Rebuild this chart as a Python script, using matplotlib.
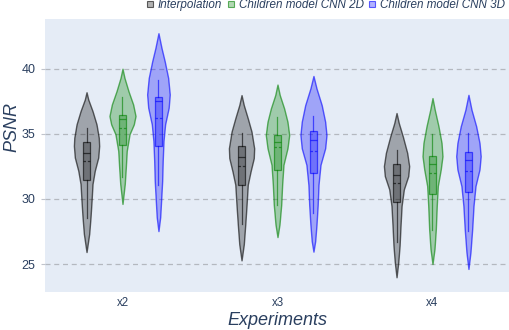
import numpy as np
import matplotlib
matplotlib.use("Agg")
from matplotlib import pyplot as plt
from matplotlib.lines import Line2D

plt.rcParams['font.family'] = ['Liberation Sans', 'DejaVu Sans']

experiments = ["x2", "x3", "x4"]
methods = ["Interpolation", "Children model CNN 2D", "Children model CNN 3D"]

# violin outlines: PSNR levels and relative density at each level
levels = {
    ("x2", "Interpolation"): [38.21, 37.65, 36.76, 35.74, 34.72, 34.08, 33.19, 32.17, 31.15, 29.88, 28.6, 27.32, 25.92],
    ("x2", "Children model CNN 2D"): [40.02, 39.31, 38.29, 37.27, 36.38, 35.74, 34.98, 33.7, 32.43, 31.15, 29.62],
    ("x2", "Children model CNN 3D"): [42.75, 41.61, 40.59, 39.31, 38.04, 37.02, 35.74, 34.47, 32.94, 31.41, 29.88, 28.6, 27.53],
    ("x3", "Interpolation"): [37.99, 37.22, 36.2, 35.18, 33.9, 33.14, 32.12, 31.1, 29.57, 28.04, 26.51, 25.28],
    ("x3", "Children model CNN 2D"): [38.8, 37.99, 36.96, 35.94, 34.92, 33.9, 32.63, 31.1, 29.57, 28.04, 27.07],
    ("x3", "Children model CNN 3D"): [39.46, 38.5, 37.22, 35.94, 34.92, 33.9, 32.63, 31.1, 29.57, 28.04, 26.76, 25.95],
    ("x4", "Interpolation"): [36.61, 35.84, 34.82, 33.55, 32.53, 31.76, 30.74, 29.47, 27.94, 26.41, 25.13, 23.98],
    ("x4", "Children model CNN 2D"): [37.76, 36.86, 35.59, 34.31, 33.29, 32.27, 31.0, 29.47, 27.68, 26.15, 25.0],
    ("x4", "Children model CNN 3D"): [38.01, 36.86, 35.59, 34.31, 33.29, 32.27, 31.0, 29.47, 27.68, 25.9, 24.62],
}
density = {
    ("x2", "Interpolation"): [0, .13, .45, .75, .92, .95, .88, .62, .45, .38, .30, .20, 0],
    ("x2", "Children model CNN 2D"): [0, .15, .45, .80, .98, .85, .53, .32, .25, .17, 0],
    ("x2", "Children model CNN 3D"): [0, .23, .47, .73, .85, .77, .50, .38, .32, .28, .20, .13, 0],
    ("x3", "Interpolation"): [0, .17, .47, .75, .95, .92, .68, .47, .38, .28, .17, 0],
    ("x3", "Children model CNN 2D"): [0, .17, .50, .75, .88, .75, .45, .35, .28, .15, 0],
    ("x3", "Children model CNN 3D"): [0, .23, .62, .88, .98, .88, .53, .38, .32, .23, .13, 0],
    ("x4", "Interpolation"): [0, .17, .47, .80, .95, .88, .55, .38, .30, .23, .13, 0],
    ("x4", "Children model CNN 2D"): [0, .17, .45, .68, .75, .62, .40, .32, .25, .15, 0],
    ("x4", "Children model CNN 3D"): [0, .23, .58, .83, .92, .83, .53, .38, .28, .15, 0],
}

# inner box stats, in order x2, x3, x4
q1 = {
    "Interpolation": [31.46, 31.08, 29.75],
    "Children model CNN 2D": [34.15, 32.23, 30.4],
    "Children model CNN 3D": [34.05, 31.97, 30.5],
}
q3 = {
    "Interpolation": [34.36, 34.08, 32.7],
    "Children model CNN 2D": [36.46, 34.92, 33.3],
    "Children model CNN 3D": [37.85, 35.2, 33.6],
}
median = {
    "Interpolation": [33.51, 33.2, 31.85],
    "Children model CNN 2D": [36.13, 34.4, 32.67],
    "Children model CNN 3D": [37.57, 34.5, 33.0],
}
mean = {
    "Interpolation": [32.95, 32.56, 31.2],
    "Children model CNN 2D": [35.44, 34.0, 32.0],
    "Children model CNN 3D": [36.23, 33.7, 32.15],
}
whislo = {
    "Interpolation": [28.51, 28.1, 26.7],
    "Children model CNN 2D": [31.72, 29.54, 27.6],
    "Children model CNN 3D": [31.05, 28.9, 27.5],
}
whishi = {
    "Interpolation": [35.49, 35.1, 33.8],
    "Children model CNN 2D": [37.88, 36.28, 35.0],
    "Children model CNN 3D": [39.18, 36.4, 35.05],
}

base_colors = {
    "Interpolation": (0.0, 0.0, 0.0),
    "Children model CNN 2D": (0.0, 0.502, 0.0),
    "Children model CNN 3D": (0.0, 0.0, 1.0),
}
TEXT = "#2a3f5f"
BG = "#e5ecf6"
OFFSET = 0.232
HALF_WIDTH = 0.0858  # half width of a violin at density 1
BOX_W = 0.046

fig = plt.figure(figsize=(5.1, 3.3), dpi=100)
ax = fig.add_axes([45 / 510, 1 - 291.7 / 330, 465 / 510, (291.7 - 19.3) / 330])
ax.set_facecolor(BG)
ax.set_axisbelow(True)

for gi, exp in enumerate(experiments):
    for mi, m in enumerate(methods):
        pos = gi + (mi - 1) * OFFSET
        c = base_colors[m]
        line_c = (*c, 0.6)
        fill_c = (*c, 0.3)
        ys = np.array(levels[(exp, m)])
        d = np.array(density[(exp, m)])
        stats = dict(coords=ys, vals=d, mean=mean[m][gi], median=median[m][gi],
                     min=ys.min(), max=ys.max())
        parts = ax.violin([stats], positions=[pos], widths=[2 * HALF_WIDTH * d.max()],
                          showmeans=False, showextrema=False, showmedians=False)
        for body in parts["bodies"]:
            body.set_facecolor(fill_c)
            body.set_edgecolor(line_c)
            body.set_linewidth(1.0)
            body.set_alpha(None)
            body.set_zorder(2)

        box = dict(med=median[m][gi], q1=q1[m][gi], q3=q3[m][gi],
                   whislo=whislo[m][gi], whishi=whishi[m][gi], mean=mean[m][gi], fliers=[])
        ax.bxp([box], positions=[pos], widths=BOX_W, patch_artist=True, showcaps=False,
               showfliers=False, showmeans=True, meanline=True, manage_ticks=False,
               boxprops=dict(facecolor=fill_c, edgecolor=line_c, linewidth=0.9),
               medianprops=dict(color=line_c, linewidth=0.9),
               meanprops=dict(color=line_c, linewidth=0.9, linestyle=(0, (2, 1.5))),
               whiskerprops=dict(color=line_c, linewidth=0.9),
               zorder=3)

ax.set_xlim(-0.5, 2.5)
ax.set_ylim(22.87, 43.82)
ax.set_xticks(range(len(experiments)))
ax.set_xticklabels(experiments)
ax.set_yticks([25, 30, 35, 40])
ax.grid(axis="y", color="#b4b8bf", linestyle=(0, (4, 3)), linewidth=0.9)
for s in ax.spines.values():
    s.set_visible(False)
ax.tick_params(axis="x", length=0, pad=4, labelsize=8.3, labelcolor=TEXT)
ax.tick_params(axis="y", length=3, width=0.8, color="#c0c4cc", pad=4, labelsize=9, labelcolor=TEXT)

ax.set_ylabel("PSNR", fontsize=13, fontstyle="italic", color=TEXT, va="center")
ax.yaxis.set_label_coords(-0.071, 0.606)
ax.set_xlabel("Experiments", fontsize=13, fontstyle="italic", color=TEXT, labelpad=2)

handles = [Line2D([], [], marker="s", linestyle="none", markersize=5,
                  markerfacecolor=(*base_colors[m], 0.3), markeredgecolor=(*base_colors[m], 0.6),
                  markeredgewidth=0.8) for m in methods]
fig.legend(handles, methods, loc="upper right", bbox_to_anchor=(1.004, 1.025), ncol=3,
           frameon=False, handlelength=0.6, handletextpad=0.4, columnspacing=0.4,
           prop=dict(size=8.4, style="italic"), labelcolor=TEXT, borderaxespad=0.2)

fig.savefig("out.png", dpi=100)
